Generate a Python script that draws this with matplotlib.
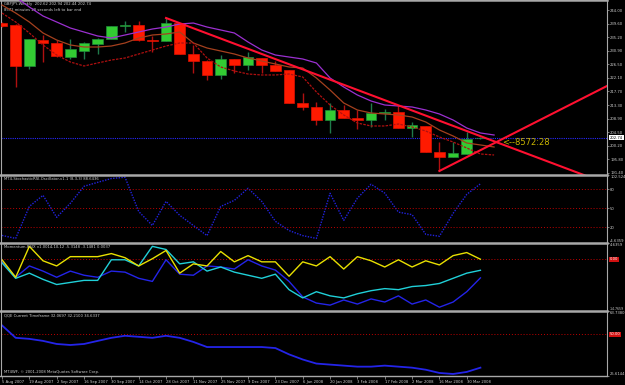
import numpy as np
import pandas as pd
import matplotlib
matplotlib.use("Agg")
import matplotlib.pyplot as plt
from matplotlib.transforms import blended_transform_factory

# --- weekly GBPJPY candles ---
opens = [239.80, 239.16, 225.93, 234.32, 233.35, 228.83, 230.77, 233.03, 234.64, 238.84,
         239.16, 234.32, 234.00, 239.80, 229.80, 227.54, 223.02, 228.19, 226.25, 228.51,
         226.25, 224.64, 213.99, 212.70, 208.50, 211.73, 209.15, 208.50, 210.76, 211.08,
         205.92, 206.57, 198.18, 196.56, 197.53, 202.62]
highs = [240.13, 239.48, 234.64, 235.93, 234.32, 234.64, 233.67, 234.96, 238.84, 240.45,
         240.45, 235.61, 241.42, 239.80, 232.71, 227.86, 229.48, 228.19, 230.45, 228.51,
         227.54, 224.64, 217.22, 214.31, 213.99, 213.34, 211.73, 213.99, 212.05, 213.02,
         207.86, 206.57, 201.40, 201.40, 204.63, 202.94]
lows = [238.51, 219.15, 224.96, 227.22, 228.83, 228.19, 228.19, 229.80, 234.64, 236.90,
        234.00, 230.45, 234.00, 229.80, 223.67, 221.41, 221.73, 223.67, 224.64, 223.67,
        224.32, 213.99, 211.73, 206.89, 204.31, 209.15, 205.60, 206.24, 208.50, 205.92,
        203.02, 198.18, 192.05, 196.56, 197.53, 202.44]
closes = [238.84, 225.93, 234.64, 233.35, 229.16, 231.41, 233.35, 234.64, 238.84, 239.32,
          234.32, 234.09, 239.80, 229.80, 227.54, 223.02, 228.19, 226.25, 228.83, 226.25,
          224.32, 213.99, 212.70, 208.50, 211.73, 209.15, 208.50, 210.76, 211.08, 205.92,
          206.89, 198.18, 196.56, 197.85, 202.37, 202.74]
first_week = "2007-08-05"

# moving averages (shifted one bar forward, so one value longer)
ma_purple = [251.10, 248.20, 244.97, 242.06, 240.13, 238.19, 236.90, 235.61, 234.96, 235.93,
             236.90, 237.87, 238.51, 239.48, 239.80, 238.51, 237.55, 236.58, 233.67, 231.09,
             229.48, 228.83, 228.19, 226.90, 222.06, 219.15, 216.57, 214.63, 213.34, 213.02,
             212.70, 211.73, 210.44, 208.50, 205.92, 204.31, 203.66]
ma_brown = [245.61, 243.03, 240.13, 236.58, 234.32, 232.71, 232.06, 232.06, 232.38, 233.35,
            234.96, 235.93, 236.26, 236.90, 233.35, 231.74, 230.77, 229.80, 228.51, 227.54,
            226.58, 225.61, 225.28, 222.06, 218.18, 213.99, 211.73, 210.76, 210.44, 210.12,
            209.47, 207.86, 205.28, 203.34, 201.08, 200.44, 199.79]
ma_low = [243.03, 240.13, 236.58, 232.71, 229.48, 227.22, 225.93, 226.90, 227.86, 228.51,
          229.80, 231.09, 232.38, 233.35, 233.35, 228.51, 225.61, 224.32, 223.35, 223.03,
          223.03, 223.35, 222.38, 217.54, 213.34, 210.12, 207.53, 206.57, 206.57, 207.21,
          206.24, 204.95, 203.02, 201.40, 199.47, 197.53, 197.21]

# trendlines: (bar index, price) anchors
trend_down = [(12, 241.42), (40, 195.0)]
trend_up = [(32, 192.05), (44, 218.9)]

main_ticks = [244.00, 239.60, 235.20, 230.90, 226.50, 222.10, 217.70, 213.30,
              208.90, 204.50, 200.20, 195.80, 191.40]

# indicator windows
stoch = [7.3, 2.6, 53.0, 70.5, 35.8, 58.0, 84.7, 91.0, 97.0, 99.0, 45.0, 23.0,
         61.0, 39.0, 23.0, 7.0, 53.0, 62.6, 81.6, 61.0, 29.5, 15.0, 7.0, 2.6,
         73.7, 31.0, 66.0, 88.0, 74.0, 44.0, 40.0, 9.0, 6.0, 42.0, 72.0, 88.64]
mom_yellow = [-0.15, -5.15, 3.68, -0.44, -1.91, 0.74, 0.74, 0.74, 1.62, 0.44, -1.91, 0.15,
              2.50, -3.97, -1.32, -1.91, 2.21, -0.74, 1.03, -0.74, -0.74, -4.85, -0.74, -1.91,
              0.74, -2.79, 0.74, -0.44, -2.21, -0.15, -2.21, -0.44, -1.62, 1.03, 1.91, 0.0037]
mom_cyan = [-1.03, -5.44, -3.97, -5.74, -7.21, -6.62, -6.03, -6.03, -0.15, -0.15, -1.91, 3.68,
            2.79, -1.32, -0.74, -3.38, -2.21, -3.68, -4.56, -5.44, -4.26, -8.68, -11.03, -9.26,
            -10.44, -11.03, -9.85, -8.97, -8.38, -8.68, -7.79, -7.50, -6.91, -5.44, -3.97, -3.1481]
mom_blue = [-0.74, -5.15, -1.91, -3.38, -5.15, -3.38, -4.56, -5.15, -3.38, -3.68, -5.44, -6.32,
            -0.15, -4.26, -4.56, -1.91, -2.21, -2.79, -0.15, -1.91, -3.09, -6.32, -10.74, -12.50,
            -13.09, -11.62, -12.79, -11.32, -12.21, -10.44, -12.79, -11.62, -13.68, -12.21, -9.26, -5.3148]
qqe = [55.3, 48.0, 47.4, 46.2, 44.4, 43.8, 44.4, 46.2, 48.0, 49.2, 48.6, 48.0,
       49.2, 48.0, 45.6, 42.6, 42.6, 42.6, 42.6, 42.6, 42.0, 38.3, 35.3, 32.9,
       32.3, 31.7, 31.1, 31.1, 31.7, 31.1, 30.5, 29.3, 27.4, 26.8, 28.0, 30.5]

W, H, AX_R = 625, 385, 607
GRAY = "#a8a8a8"
TXT = "#d0d0d0"
FS = 2.7   # MT4 uses a tiny pixel font
XLIM = (-0.11, 44.26)


def add_pane(fig, top, bottom, ylim, last=False):
    ax = fig.add_axes([0.5 / W, 1 - bottom / H, (AX_R - 0.5) / W, (bottom - top) / H])
    ax.set_facecolor("black")
    ax.set_xlim(*XLIM)
    ax.set_ylim(*ylim)
    for s in ("left", "right"):
        ax.spines[s].set_color(GRAY); ax.spines[s].set_linewidth(0.8)
    ax.spines["top"].set_color(GRAY); ax.spines["top"].set_linewidth(1.8)
    ax.spines["bottom"].set_visible(last)
    ax.spines["bottom"].set_color(GRAY); ax.spines["bottom"].set_linewidth(1.0)
    ax.yaxis.tick_right()
    ax.tick_params(axis="y", direction="out", length=1.5, width=0.5, color=GRAY,
                   labelsize=FS, labelcolor=TXT, pad=0.8)
    if not last:
        ax.set_xticks([])
    return ax


def edge_labels(ax):
    labs = ax.get_yticklabels()
    labs[0].set_va("bottom")
    labs[-1].set_va("top")
    for t in labs:
        if len(t.get_text()) > 7:   # long values would run off the right edge
            t.set_fontsize(FS * 0.85)


def level_box(ax, value, label):
    tr = blended_transform_factory(ax.transAxes, ax.transData)
    ax.text(1.005, value, label, transform=tr, ha="left", va="center", fontsize=FS,
            color="white", bbox=dict(fc="#d01010", ec="none", pad=0.4), clip_on=False)


fig = plt.figure(figsize=(W / 100, H / 100), dpi=100, facecolor="black")

# ---------------- main price pane ----------------
ax = add_pane(fig, 0, 175, (190.75, 247.23))
o, h, l, c = map(np.asarray, (opens, highs, lows, closes))
x = np.arange(len(o))
up = c >= o
lo = np.minimum(o, c)
bh = np.maximum(np.abs(c - o), 0.15)
ax.vlines(x[up], l[up], h[up], color="#1f7a4a", lw=1.0, zorder=2)
ax.vlines(x[~up], l[~up], h[~up], color="#b01010", lw=1.0, zorder=2)
ax.bar(x[up], bh[up], bottom=lo[up], width=0.78, color="#33cc33", edgecolor="#1f8a3a", lw=0.5, zorder=3)
ax.bar(x[~up], bh[~up], bottom=lo[~up], width=0.78, color="#ff1a00", edgecolor="#e01000", lw=0.5, zorder=3)

xm = np.arange(len(ma_purple))
ax.plot(xm, ma_purple, color="#9b30d0", lw=0.9, zorder=4)
ax.plot(xm, ma_brown, color="#a5401e", lw=0.9, zorder=4)
ax.plot(xm, ma_low, color="#b01010", lw=0.9, ls=(0, (2, 1)), zorder=4)

for (x0, y0), (x1, y1) in (trend_down, trend_up):
    slope = (y1 - y0) / (x1 - x0)
    ax.plot([x0, 60], [y0, y0 + slope * (60 - x0)], color="#ff1030", lw=1.5, zorder=5)

ax.axhline(closes[-1], color="#2828ff", lw=0.8, ls=(0, (1, 1)), zorder=1)
ax.text(36.6, 201.1, "<--8572:28", color="#c8b400", fontsize=6, ha="left", va="center", zorder=6)

ax.set_yticks(main_ticks)
ax.set_yticklabels([f"{t:.2f}" for t in main_ticks])
tr = blended_transform_factory(ax.transAxes, ax.transData)
ax.text(1.005, closes[-1], f"{closes[-1]:.2f}", transform=tr, ha="left", va="center",
        fontsize=FS, color="black", bbox=dict(fc="white", ec="none", pad=0.4), clip_on=False)
ax.text(0.005, 0.99, "GBPJPY,Weekly  202.62 202.94 202.44 202.74", transform=ax.transAxes,
        fontsize=FS, color=TXT, va="top")
ax.text(0.005, 0.955, "8572 minutes 28 seconds left to bar end", transform=ax.transAxes,
        fontsize=FS, color=TXT, va="top")

# ---------------- stochastic RSI ----------------
ax = add_pane(fig, 175, 243, (-4.6359, 102.524))
ax.plot(x, stoch, color="#2222dd", lw=1.0, ls=(0, (1, 1)))
for lvl in (80, 50, 20):
    ax.axhline(lvl, color="#c00000", lw=0.7, ls=(0, (1, 2)))
ax.set_yticks([-4.6359, 20, 50, 80, 102.524])
ax.set_yticklabels(["-4.6359", "20", "50", "80", "102.524"])
edge_labels(ax)
ax.text(0.005, 0.97, "MT4-StochasticRSI-Oscillator-v1.1 (8,3,3) 88.6436", transform=ax.transAxes,
        fontsize=FS, color=TXT, va="top")

# ---------------- momentum ----------------
ax = add_pane(fig, 243, 311, (-14.7659, 4.6359))
ax.axhline(0, color="#c00000", lw=0.7, ls=(0, (1, 2)))
ax.plot(x, mom_blue, color="#2424e8", lw=1.0)
ax.plot(x, mom_cyan, color="#20d0d8", lw=1.0)
ax.plot(x, mom_yellow, color="#e8e000", lw=1.0)
ax.set_yticks([-14.7659, 4.6359])
ax.set_yticklabels(["-14.7659", "4.6359"])
edge_labels(ax)
level_box(ax, 0, "0.00")
ax.text(0.005, 0.97, "Momentum-RSIX v1.0014,10,12 -5.3148 -3.1481 0.0037", transform=ax.transAxes,
        fontsize=FS, color=TXT, va="top")

# ---------------- QQE ----------------
ax = add_pane(fig, 311, 376, (25.6144, 63.738), last=True)
ax.axhline(50, color="#c00000", lw=0.7, ls=(0, (1, 2)))
ax.plot(x, qqe, color="#2424e8", lw=1.3)
ax.set_yticks([25.6144, 63.738])
ax.set_yticklabels(["25.6144", "63.7380"])
edge_labels(ax)
level_box(ax, 50, "50.00")
ax.text(0.005, 0.96, "QQE Current Timeframe 32.0697 32.2100 34.6337", transform=ax.transAxes,
        fontsize=FS, color=TXT, va="top")
ax.text(0.005, 0.03, "MT4WF, \u00a9 2001-2008 MetaQuotes Software Corp.", transform=ax.transAxes,
        fontsize=FS, color=TXT, va="bottom")

dates = pd.date_range(first_week, periods=len(opens), freq="7D")
ax.set_xticks(x[::2])
ax.set_xticklabels([f"{d.day} {d:%b %Y}" for d in dates[::2]], ha="left")
ax.tick_params(axis="x", direction="out", length=2, width=0.5, color=GRAY,
               labelsize=FS, labelcolor=TXT, pad=1.0)

fig.savefig("out.png", dpi=100, facecolor="black")
